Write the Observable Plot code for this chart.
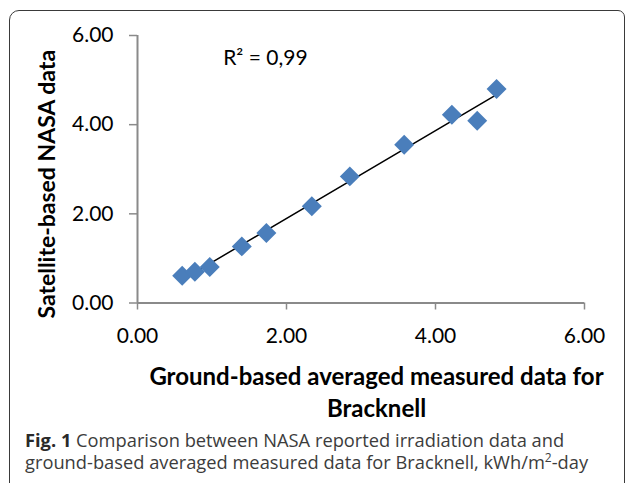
<!DOCTYPE html>
<html>
<head>
<meta charset="utf-8">
<script src="https://cdn.jsdelivr.net/npm/d3@7"></script>
<script src="https://cdn.jsdelivr.net/npm/@observablehq/plot@0.6"></script>
<style>
  html, body { margin: 0; padding: 0; background: #fff; overflow: hidden; width: 627px; height: 483px; }
  #frame { position: absolute; left: 9px; top: 10px; width: 616px; height: 520px;
           border: 1.6px solid #3a3a3a; border-radius: 10px 7px 0 0; box-sizing: border-box; }
  #chart { position: absolute; left: 0; top: 0; }
  .cap { position: absolute; left: 25px; font-family: "Open Sans", Lato, sans-serif;
         font-size: 18.3px; line-height: 20px; height: 20px; color: #3c3c3c; white-space: nowrap; }
  .cap b { color: #2a2a2a; }
</style>
</head>
<body>
<div id="frame"></div>
<div id="chart"></div>
<div class="cap" style="top:430px"><b>Fig. 1</b> Comparison between NASA reported irradiation data and</div>
<div class="cap" style="top:452px">ground-based averaged measured data for Bracknell, kWh/m<sup style="font-size:12px;line-height:0">2</sup>-day</div>
<script>
// Ground-based averaged measured data (x) vs satellite-based NASA data (y)
const groundMeasured = [0.60, 0.77, 0.97, 1.40, 1.73, 2.34, 2.85, 3.58, 4.22, 4.56, 4.82];
const nasaSatellite  = [0.61, 0.70, 0.81, 1.27, 1.57, 2.17, 2.84, 3.55, 4.22, 4.09, 4.80];
const axisTicks = [0, 2, 4, 6];
const xTitle = "Ground-based averaged measured data for\nBracknell";
const yTitle = "Satellite-based NASA data";
const r2Label = "R\u00B2 = 0,99";

const points = groundMeasured.map((x, i) => ({x, y: nasaSatellite[i]}));
const fmt = d3.format(".2f");
const axisGray = "#8a8a8a";

const chart = Plot.plot({
  width: 627,
  height: 428,
  marginLeft: 137,
  marginRight: 43,
  marginTop: 35,
  marginBottom: 125.5,
  style: {fontFamily: "Lato, 'Open Sans', sans-serif", fontSize: "20px", color: "#000", background: "transparent"},
  x: {domain: [0, 6]},
  y: {domain: [0, 6]},
  marks: [
    Plot.ruleY([0], {stroke: axisGray, strokeWidth: 2}),
    Plot.ruleX([0], {stroke: axisGray, strokeWidth: 2}),
    Plot.axisX({ticks: axisTicks, tickFormat: fmt, tickSize: 7, tickPadding: 18, stroke: axisGray, strokeWidth: 1.5, fill: "#000", fontSize: 21, label: null}),
    Plot.axisY({ticks: axisTicks, tickFormat: fmt, tickSize: 8, tickPadding: 16, stroke: axisGray, strokeWidth: 1.5, fill: "#000", fontSize: 21, label: null}),
    Plot.linearRegressionY(points, {x: "x", y: "y", stroke: "#000", strokeWidth: 1.5, ci: 0}),
    Plot.dot(points, {x: "x", y: "y", symbol: "diamond2", r: 9, fill: "#4a7ebb", stroke: "none"}),
    Plot.text([r2Label], {x: () => 1.15, y: () => 5.33, text: d => d, textAnchor: "start", lineAnchor: "bottom", fontSize: 21, fill: "#000"}),
    Plot.text([xTitle], {frameAnchor: "bottom", text: d => d, textAnchor: "middle", lineAnchor: "top", dx: 15.5, dy: 59, lineHeight: 1.35, fontSize: 24, fontWeight: "bold", fill: "#000"}),
    Plot.text([yTitle], {frameAnchor: "left", text: d => d, rotate: -90, textAnchor: "middle", lineAnchor: "middle", dx: -90, dy: 15, fontSize: 23, fontWeight: "bold", fill: "#000"})
  ]
});
document.getElementById("chart").appendChild(chart);
</script>
</body>
</html>
